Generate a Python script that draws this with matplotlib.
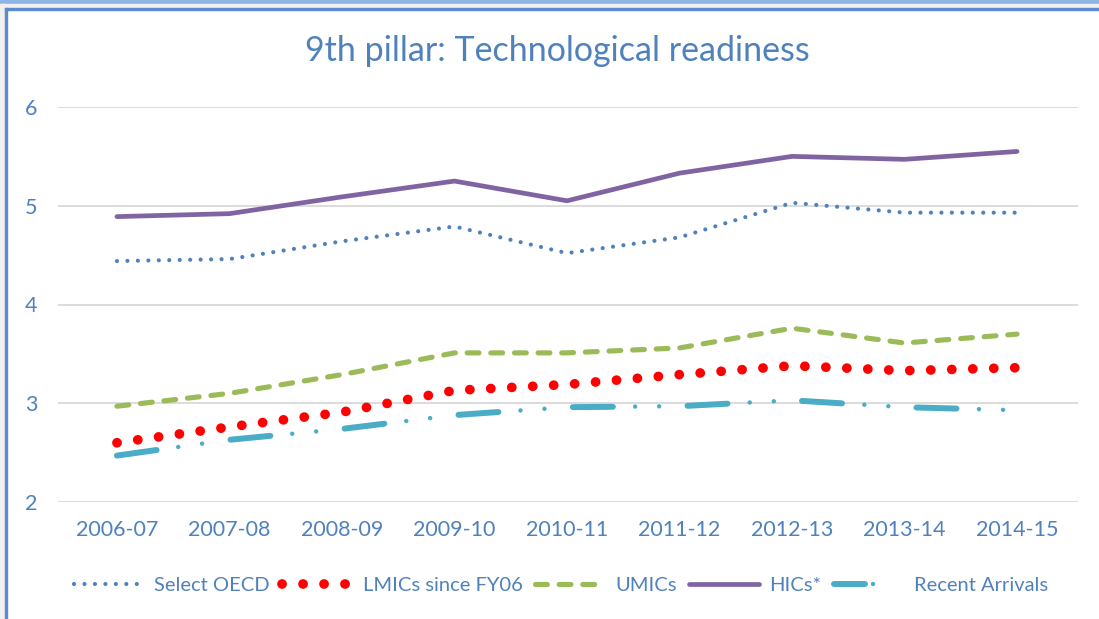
import matplotlib
matplotlib.use("Agg")
import matplotlib.pyplot as plt
from matplotlib.patches import Rectangle
from matplotlib.lines import Line2D
from matplotlib.legend_handler import HandlerTuple

years = ["2006-07", "2007-08", "2008-09", "2009-10", "2010-11",
         "2011-12", "2012-13", "2013-14", "2014-15"]
select_oecd = [4.44, 4.46, 4.64, 4.79, 4.52, 4.68, 5.03, 4.93, 4.93]
lmics = [2.60, 2.76, 2.91, 3.13, 3.19, 3.29, 3.38, 3.33, 3.36]
umics = [2.97, 3.10, 3.29, 3.51, 3.51, 3.56, 3.76, 3.61, 3.70]
hics = [4.89, 4.92, 5.09, 5.25, 5.05, 5.33, 5.50, 5.47, 5.55]
recent = [2.47, 2.63, 2.74, 2.88, 2.96, 2.97, 3.03, 2.96, 2.93]
yticks = [2, 3, 4, 5, 6]

TXT = "#4F81BD"
RA = "#4BACC6"
FONT = "Lato"
plt.rcParams["font.family"] = [FONT, "DejaVu Sans"]

W, H = 1099, 619
fig = plt.figure(figsize=(W / 100, H / 100), dpi=100)

# window-style frame around the chart
fig.patches.append(Rectangle((0, 1 - 4 / H), 1, 4 / H, transform=fig.transFigure,
                             color="#8DB4E2", zorder=0))
fig.patches.append(Rectangle((0, 1 - 8 / H), 1, 4 / H, transform=fig.transFigure,
                             color="#F0F0F0", zorder=0))
fig.patches.append(Rectangle((0, 0), 5 / W, 1 - 4 / H, transform=fig.transFigure,
                             color="#F0F0F0", zorder=0))
fig.patches.append(Rectangle((5 / W, 1 - 10 / H), 1, 2 / H, transform=fig.transFigure,
                             color="#5B8BCB", zorder=1))
fig.patches.append(Rectangle((5 / W, 0), 2 / W, 1 - 8 / H, transform=fig.transFigure,
                             color="#5B8BCB", zorder=1))

left, right = 58, 1078
top, bottom = 107, 502
ax = fig.add_axes([left / W, 1 - bottom / H, (right - left) / W, (bottom - top) / H])
x = list(range(len(years)))

ax.set_ylim(2, 6)
ax.set_xlim(-0.524, 8.542)
ax.set_yticks(yticks)
ax.set_xticks(x)
ax.set_xticklabels(years)
ax.grid(axis="y", color="#D9D9D9", linewidth=1.3)
ax.set_axisbelow(True)
for s in ax.spines.values():
    s.set_visible(False)
ax.tick_params(length=0, labelsize=15.5, labelcolor=TXT)
ax.tick_params(axis="y", pad=15)
ax.tick_params(axis="x", pad=13)

DOT = 0.01  # near-zero dash so round caps render as dots

l_oecd, = ax.plot(x, select_oecd, color="#4F81BD", lw=3.0,
                  linestyle=(0, (DOT, 2.5)), dash_capstyle="round",
                  label="Select OECD")
l_lmic, = ax.plot(x, lmics, color="#FF0000", lw=7.0,
                  linestyle=(0, (DOT, 2.15)), dash_capstyle="round",
                  label="LMICs since FY06")
l_umic, = ax.plot(x, umics, color="#9BBB59", lw=3.7,
                  linestyle=(0, (2.3, 2.3)), dash_capstyle="round",
                  label="UMICs")
l_hic, = ax.plot(x, hics, color="#8064A2", lw=3.4, solid_capstyle="round",
                 label="HICs*")
# long dash followed by two small dots: drawn as two overlaid patterns
# sharing one period (about 82.6 pt)
l_ra_dash, = ax.plot(x, recent, color=RA, lw=4.3,
                     linestyle=(0, (6.7, 12.5)), dash_capstyle="round")
l_ra_dot, = ax.plot(x, recent, color=RA, lw=3.2,
                    linestyle=(11.9, (DOT, 5.4, DOT, 20.4)), dash_capstyle="round")

# legend key for Recent Arrivals: one dash and one dot
ra_key_dash = Line2D([], [], color=RA, lw=4.3, linestyle=(0, (7.0, 20.0)),
                     dash_capstyle="round")
ra_key_dot = Line2D([], [], color=RA, lw=3.2, linestyle=(0, (DOT, 13.5, DOT, 30.0)),
                    dash_capstyle="round")

fig.text(557 / W, 1 - 51 / H, "9th pillar: Technological readiness",
         ha="center", va="center", fontsize=24.5, color=TXT)

leg = fig.legend([l_oecd, l_lmic, l_umic, l_hic, (ra_key_dash, ra_key_dot)],
                 ["Select OECD", "LMICs since FY06", "UMICs", "HICs*", "Recent Arrivals"],
                 handler_map={tuple: HandlerTuple(ndivide=None)},
                 loc="center", bbox_to_anchor=(561 / W, 1 - 585 / H), ncol=5,
                 frameon=False, fontsize=14.5, handlelength=3.5,
                 handletextpad=0.5, columnspacing=0.6, borderaxespad=0)
for t in leg.get_texts():
    t.set_color(TXT)

fig.savefig("out.png", dpi=100)
